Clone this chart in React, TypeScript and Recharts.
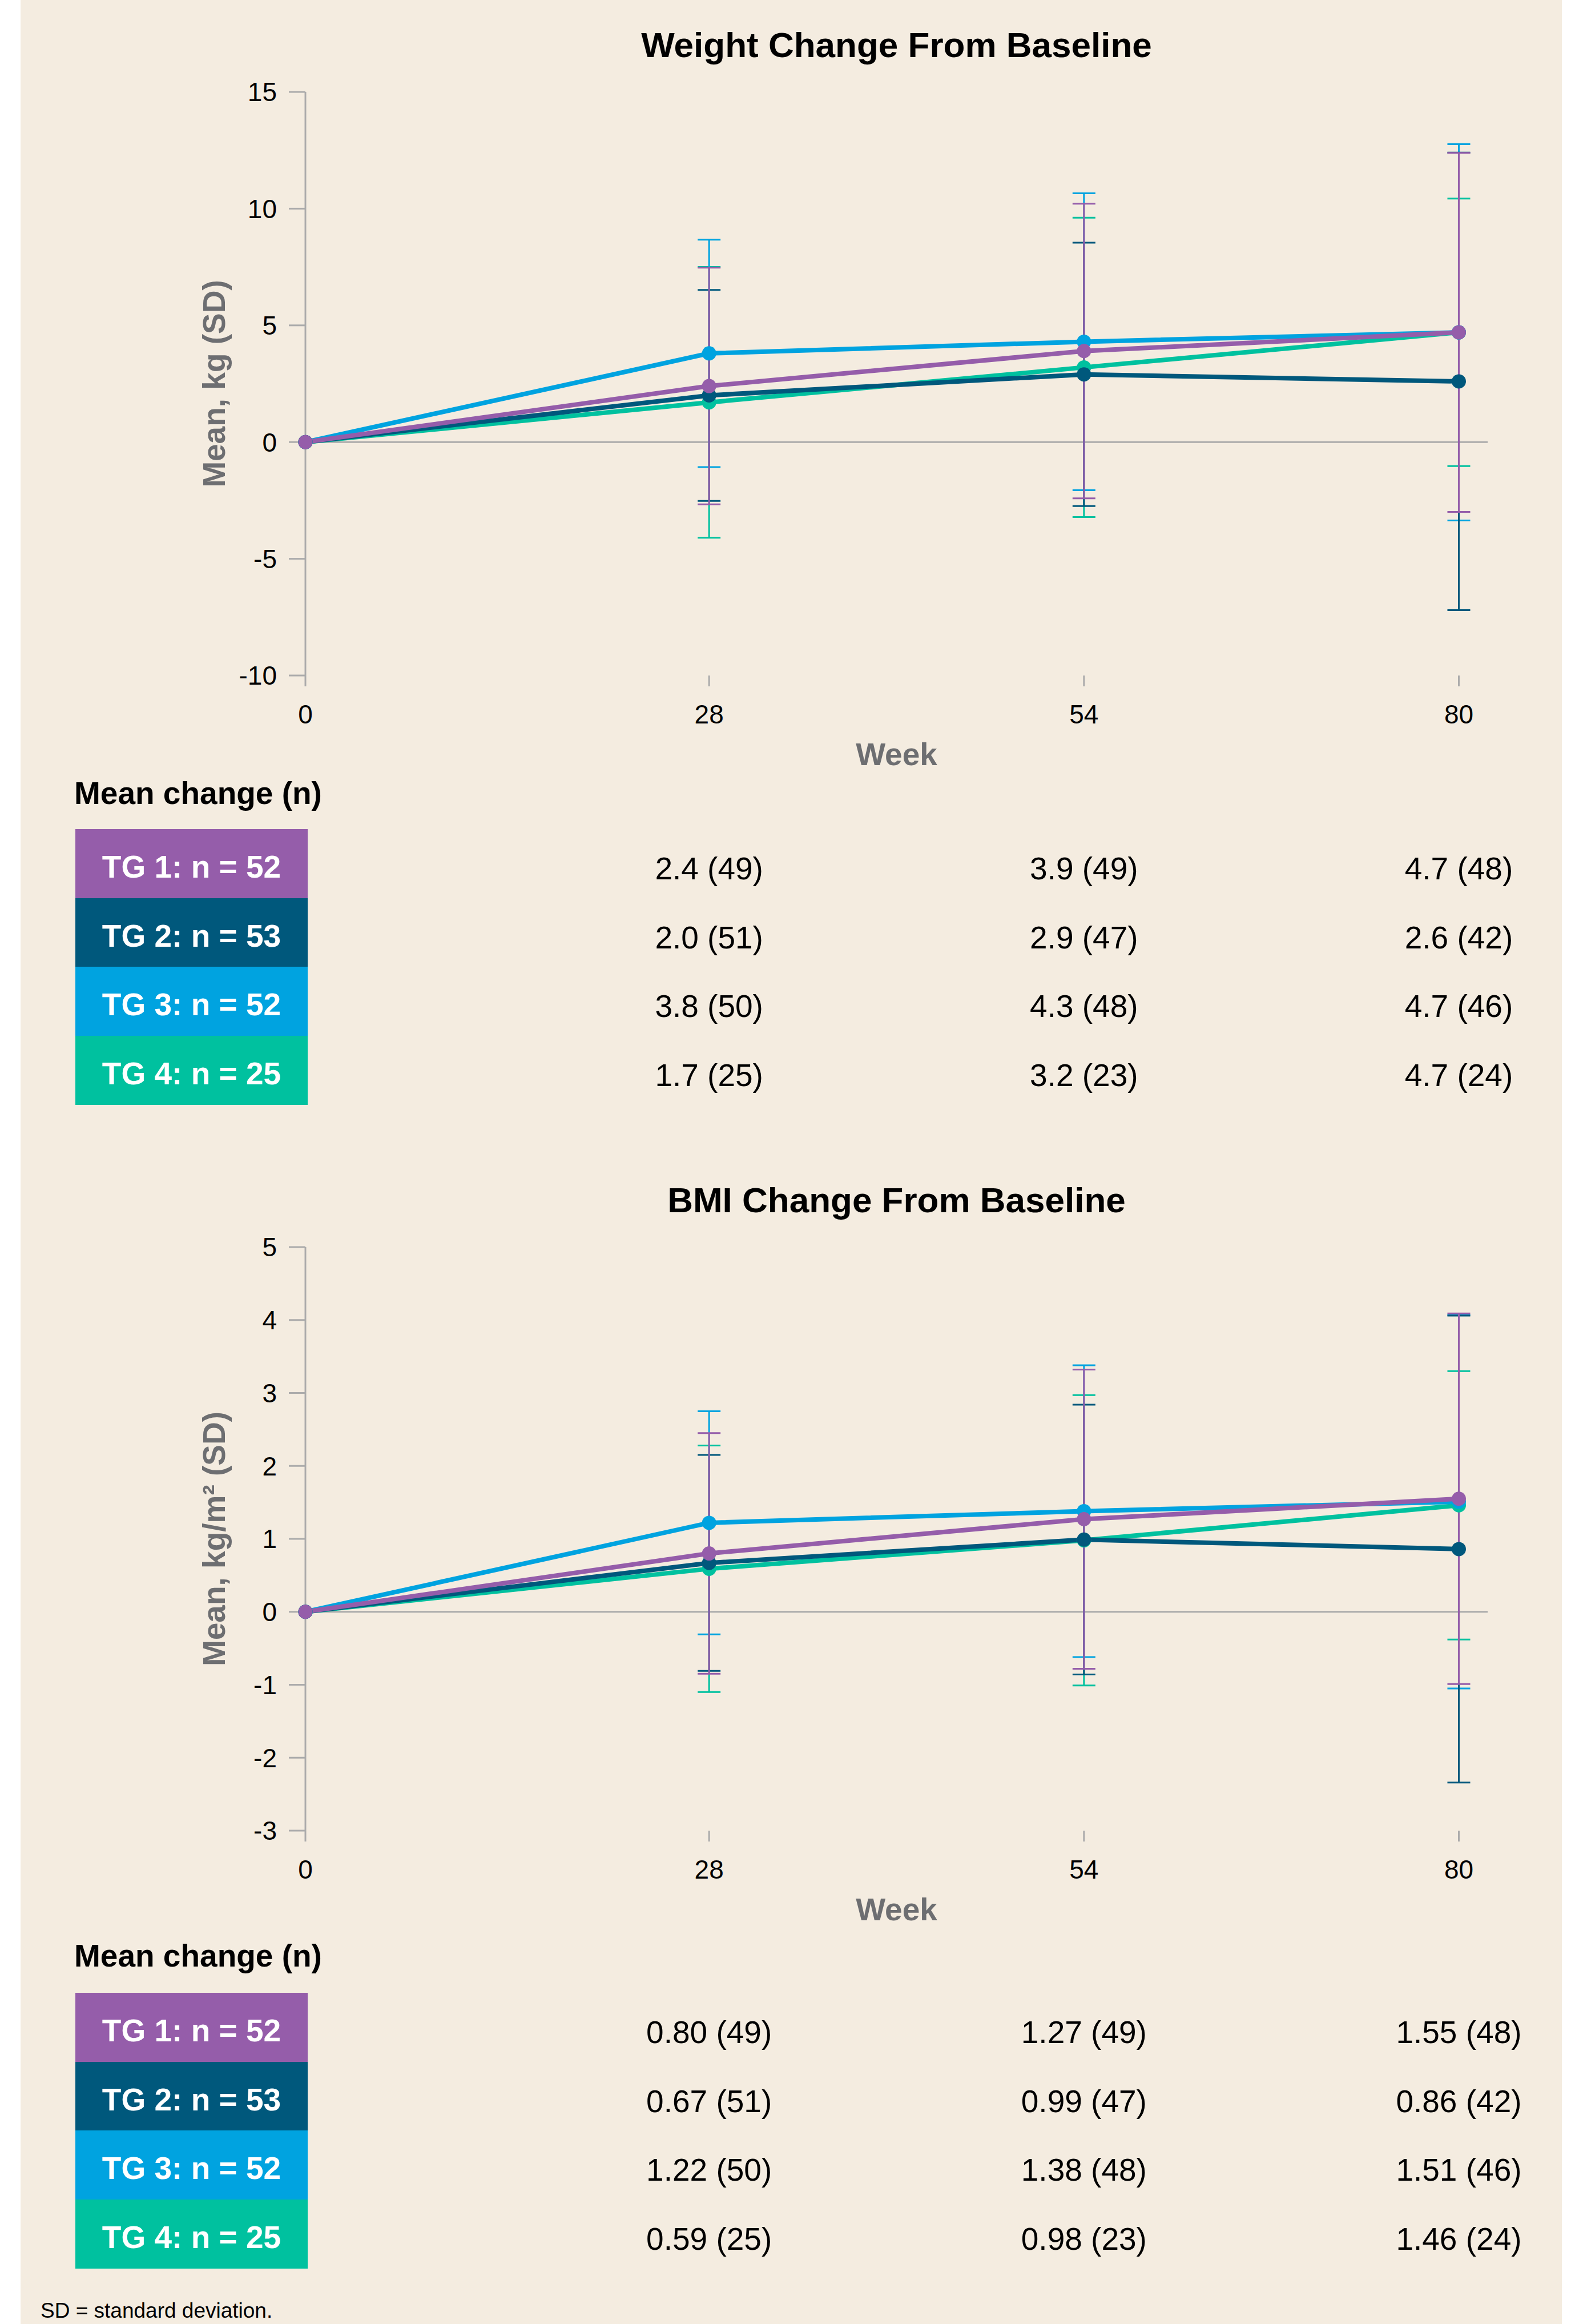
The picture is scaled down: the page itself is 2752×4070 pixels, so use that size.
import React from 'react';
import { LineChart, Line, XAxis, YAxis, ErrorBar, ReferenceLine, Label } from 'recharts';

// ---------- data ----------
const weeks = [0, 28, 54, 80];
const groupNames = ['TG 1', 'TG 2', 'TG 3', 'TG 4'];
const groupSizes = [52, 53, 52, 25];
const groupColors = ['#955DAA', '#00587C', '#00A3E0', '#00C19F'];

// Weight change (kg): mean and SD at weeks 0, 28, 54, 80
const weightMeanTG1 = [0, 2.4, 3.9, 4.7];
const weightMeanTG2 = [0, 2.0, 2.9, 2.6];
const weightMeanTG3 = [0, 3.8, 4.3, 4.7];
const weightMeanTG4 = [0, 1.7, 3.2, 4.7];
const weightSdTG1 = [0, 5.07, 6.31, 7.69];
const weightSdTG2 = [0, 4.52, 5.64, 9.8];
const weightSdTG3 = [0, 4.87, 6.36, 8.06];
const weightSdTG4 = [0, 5.8, 6.41, 5.73];
const weightNTG1 = [49, 49, 48];
const weightNTG2 = [51, 47, 42];
const weightNTG3 = [50, 48, 46];
const weightNTG4 = [25, 23, 24];

// BMI change (kg/m2): mean and SD at weeks 0, 28, 54, 80
const bmiMeanTG1 = [0, 0.8, 1.27, 1.55];
const bmiMeanTG2 = [0, 0.67, 0.99, 0.86];
const bmiMeanTG3 = [0, 1.22, 1.38, 1.51];
const bmiMeanTG4 = [0, 0.59, 0.98, 1.46];
const bmiSdTG1 = [0, 1.65, 2.05, 2.54];
const bmiSdTG2 = [0, 1.48, 1.85, 3.2];
const bmiSdTG3 = [0, 1.53, 2.0, 2.56];
const bmiSdTG4 = [0, 1.69, 1.99, 1.84];
const bmiNTG1 = [49, 49, 48];
const bmiNTG2 = [51, 47, 42];
const bmiNTG3 = [50, 48, 46];
const bmiNTG4 = [25, 23, 24];

const weightTicks = [-10, -5, 0, 5, 10, 15];
const bmiTicks = [-3, -2, -1, 0, 1, 2, 3, 4, 5];

// ---------- layout ----------
const FONT = '"Liberation Sans", Arial, Helvetica, sans-serif';
const PAGE_W = 2752;
const PAGE_H = 4070;
const PLOT_LEFT = 535;
const PLOT_RIGHT = 2606;
const X_MAX = 82;
const CHART_H = 1400;
const PLOT_TOP = 161;
const XAXIS_H = 217;
const AXIS_GRAY = '#ABABAB';
const LABEL_GRAY = '#6D6E71';
const ROW_H = 120.5;

const weekX = (w: number) => PLOT_LEFT + (w / X_MAX) * (PLOT_RIGHT - PLOT_LEFT);

function TextAt({ x, baseline, size, weight = 'normal', color = '#000', anchor = 'start', children }: any) {
  const style: React.CSSProperties = {
    position: 'absolute',
    left: x,
    top: baseline - 0.8465 * size,
    fontSize: size,
    lineHeight: `${size}px`,
    fontWeight: weight as any,
    color,
    fontFamily: FONT,
    whiteSpace: 'nowrap',
    transform: anchor === 'middle' ? 'translateX(-50%)' : undefined,
  };
  return <div style={style}>{children}</div>;
}

function makeYLabel(text: string) {
  return (props: any) => {
    const vb = props && props.viewBox ? props.viewBox : { x: 0, y: PLOT_TOP, width: PLOT_LEFT, height: 1022 };
    const x = vb.x + 394;
    const y = vb.y + vb.height / 2;
    return (
      <text
        x={x}
        y={y}
        transform={`rotate(-90, ${x}, ${y})`}
        textAnchor="middle"
        fill={LABEL_GRAY}
        fontSize={55}
        fontWeight="bold"
        fontFamily={FONT}
      >
        {text}
      </text>
    );
  };
}

function WeekChart({ top, yLabel, domain, ticks, means, sds }: any) {
  const data = weeks.map((w, i) => {
    const row: any = { week: w };
    means.forEach((m: number[], g: number) => {
      row['m' + g] = m[i];
      row['s' + g] = sds[g][i];
    });
    return row;
  });
  const order = [3, 2, 1, 0];
  return (
    <div style={{ position: 'absolute', left: 0, top, width: PAGE_W, height: CHART_H }}>
      <LineChart
        width={PAGE_W}
        height={CHART_H}
        data={data}
        margin={{ top: PLOT_TOP, right: PAGE_W - PLOT_RIGHT, bottom: 0, left: 0 }}
        style={{ fontFamily: FONT }}
      >
        <XAxis
          dataKey="week"
          type="number"
          domain={[0, X_MAX]}
          ticks={weeks}
          interval={0}
          height={XAXIS_H}
          axisLine={false}
          tickLine={{ stroke: AXIS_GRAY, strokeWidth: 3 }}
          tickSize={19}
          tickMargin={32}
          tick={{ fill: '#000', fontSize: 46 }}
        >
          <Label value="Week" position="insideBottom" offset={60} fill={LABEL_GRAY} fontSize={55} fontWeight="bold" />
        </XAxis>
        <YAxis
          type="number"
          domain={domain}
          ticks={ticks}
          interval={0}
          width={PLOT_LEFT}
          axisLine={{ stroke: AXIS_GRAY, strokeWidth: 3 }}
          tickLine={{ stroke: AXIS_GRAY, strokeWidth: 3 }}
          tickSize={29}
          tickMargin={21}
          tick={{ fill: '#000', fontSize: 46 }}
        >
          <Label content={makeYLabel(yLabel)} />
        </YAxis>
        <ReferenceLine y={0} stroke={AXIS_GRAY} strokeWidth={3} />
        {order.map((g) => (
          <Line
            key={'l' + g}
            dataKey={'m' + g}
            type="linear"
            stroke={groupColors[g]}
            strokeWidth={8}
            dot={{ r: 12.5, fill: groupColors[g], stroke: groupColors[g], strokeWidth: 0 }}
            activeDot={false}
            isAnimationActive={false}
          />
        ))}
        {order.map((g) => (
          <Line
            key={'e' + g}
            dataKey={'m' + g}
            type="linear"
            stroke="none"
            dot={false}
            activeDot={false}
            legendType="none"
            isAnimationActive={false}
          >
            <ErrorBar dataKey={'s' + g} direction="y" width={20} stroke={groupColors[g]} strokeWidth={3} isAnimationActive={false} />
          </Line>
        ))}
      </LineChart>
    </div>
  );
}

function MeanTable({ headerBaseline, boxTop, means, counts, decimals }: any) {
  return (
    <>
      <TextAt x={130} baseline={headerBaseline} size={55} weight="bold">
        Mean change (n)
      </TextAt>
      {groupNames.map((name, g) => (
        <React.Fragment key={g}>
          <div
            style={{
              position: 'absolute',
              left: 132,
              top: boxTop + g * ROW_H,
              width: 407,
              height: ROW_H + 1,
              background: groupColors[g],
            }}
          />
          <TextAt x={335.5} anchor="middle" baseline={boxTop + g * ROW_H + 86} size={55} weight="bold" color="#fff">
            {`${name}: n = ${groupSizes[g]}`}
          </TextAt>
          {weeks.slice(1).map((w, j) => (
            <TextAt key={w} x={weekX(w)} anchor="middle" baseline={boxTop + g * ROW_H + 89} size={55}>
              {`${means[g][j + 1].toFixed(decimals)} (${counts[g][j]})`}
            </TextAt>
          ))}
        </React.Fragment>
      ))}
    </>
  );
}

export default function App() {
  const weightMeans = [weightMeanTG1, weightMeanTG2, weightMeanTG3, weightMeanTG4];
  const weightSds = [weightSdTG1, weightSdTG2, weightSdTG3, weightSdTG4];
  const weightNs = [weightNTG1, weightNTG2, weightNTG3, weightNTG4];
  const bmiMeans = [bmiMeanTG1, bmiMeanTG2, bmiMeanTG3, bmiMeanTG4];
  const bmiSds = [bmiSdTG1, bmiSdTG2, bmiSdTG3, bmiSdTG4];
  const bmiNs = [bmiNTG1, bmiNTG2, bmiNTG3, bmiNTG4];
  const titleX = (PLOT_LEFT + PLOT_RIGHT) / 2;

  return (
    <div style={{ position: 'absolute', left: 0, top: 0, width: PAGE_W, height: PAGE_H, background: '#ffffff', fontFamily: FONT, overflow: 'hidden' }}>
      <div style={{ position: 'absolute', left: 36, top: 0, width: 2700, height: PAGE_H, background: '#F4ECE0' }} />

      <TextAt x={titleX} anchor="middle" baseline={100} size={62} weight="bold">
        Weight Change From Baseline
      </TextAt>
      <WeekChart
        top={0}
        yLabel="Mean, kg (SD)"
        domain={[-10, 15]}
        ticks={weightTicks}
        means={weightMeans}
        sds={weightSds}
      />
      <MeanTable headerBaseline={1409} boxTop={1452} means={weightMeans} counts={weightNs} decimals={1} />

      <TextAt x={titleX} anchor="middle" baseline={2123} size={62} weight="bold">
        BMI Change From Baseline
      </TextAt>
      <WeekChart
        top={2023}
        yLabel="Mean, kg/m² (SD)"
        domain={[-3, 5]}
        ticks={bmiTicks}
        means={bmiMeans}
        sds={bmiSds}
      />
      <MeanTable headerBaseline={3445} boxTop={3490} means={bmiMeans} counts={bmiNs} decimals={2} />

      <TextAt x={71} baseline={4059} size={37}>
        SD = standard deviation.
      </TextAt>
    </div>
  );
}
